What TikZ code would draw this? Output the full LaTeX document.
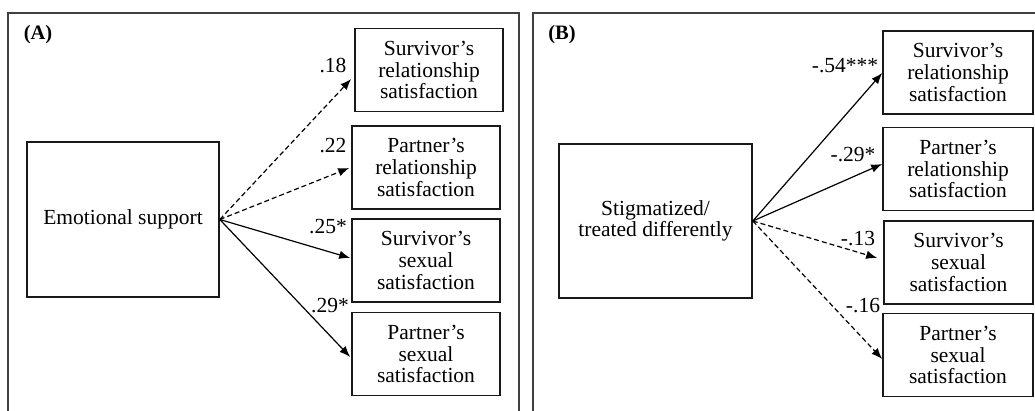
\documentclass[tikz,border=0pt]{standalone}
\usepackage{fontspec}
\setmainfont{Liberation Serif}
\usetikzlibrary{arrows.meta}
\tikzset{
  frameline/.style={draw=black!75, line width=1.3pt},
  srcbox/.style={draw=black!90, line width=1.6pt, rectangle, inner sep=0pt, align=center,
     font=\fontsize{21.5}{21.7}\selectfont},
  tgtbox/.style={draw=black!90, line width=1.6pt, rectangle, inner sep=0pt, align=center,
     minimum width=148pt, minimum height=83pt, font=\fontsize{21.5}{21.7}\selectfont},
  coef/.style={inner sep=0pt, font=\fontsize{21.5}{21.7}\selectfont},
  panel/.style={inner sep=0pt, font=\fontsize{20.5}{22}\selectfont\bfseries},
  path/.style={line width=1.2pt, -{Latex[length=11pt,width=8.5pt]}},
  nspath/.style={path, dash pattern=on 5pt off 3pt},
}
\begin{document}
\begin{tikzpicture}[x=1pt,y=-1pt]
\useasboundingbox (0,0) rectangle (1035,410);
% frames
\draw[frameline] (8,412) -- (8,13) -- (519,13) -- (519,412);
\draw[frameline] (533,412) -- (533,13) -- (1037,13);
% panel A
\node[panel] (la) at (38,35) {(A)};
\node[srcbox, minimum width=192pt, minimum height=155pt] (sa) at (123,219.5) {Emotional support};
\node[tgtbox] (a1) at (429,70) {Survivor’s\\relationship\\satisfaction};
\node[tgtbox] (a2) at (426,167.5) {Partner’s\\relationship\\satisfaction};
\node[tgtbox] (a3) at (426,260.5) {Survivor’s\\sexual\\satisfaction};
\node[tgtbox] (a4) at (426,354) {Partner’s\\sexual\\satisfaction};
\draw[nspath] (sa.east) -- ([xshift=-3pt,yshift=-9pt]a1.west);
\draw[nspath] (sa.east) -- ([xshift=-2pt,yshift=-0.5pt]a2.west);
\draw[path] (sa.east) -- ([xshift=-1pt,yshift=2.5pt]a3.west);
\draw[path] (sa.east) -- ([xshift=-1pt,yshift=-3pt]a4.west);
\node[coef] (ca1) at (333,66) {.18};
\node[coef] (ca2) at (333,146) {.22};
\node[coef] (ca3) at (328,227) {.25*};
\node[coef] (ca4) at (330,306) {.29*};
% panel B
\node[panel] (lb) at (562,35) {(B)};
\node[srcbox, minimum width=193pt, minimum height=154pt] (sb) at (655.5,221) {Stigmatized/\\treated differently};
\node[tgtbox, minimum width=150pt] (b1) at (958,72.5) {Survivor’s\\relationship\\satisfaction};
\node[tgtbox, minimum width=150pt] (b2) at (958,169) {Partner’s\\relationship\\satisfaction};
\node[tgtbox, minimum width=149pt] (b3) at (958.5,262.5) {Survivor’s\\sexual\\satisfaction};
\node[tgtbox, minimum width=150pt] (b4) at (958,355) {Partner’s\\sexual\\satisfaction};
\draw[path] (sb.east) -- ([xshift=0pt,yshift=-0.5pt]b1.west);
\draw[path] (sb.east) -- ([xshift=0pt,yshift=5pt]b2.west);
\draw[nspath] (sb.east) -- ([xshift=-6pt,yshift=4.5pt]b3.west);
\draw[nspath] (sb.east) -- ([xshift=0pt,yshift=-4pt]b4.west);
\node[coef] (cb1) at (845,66) {-.54***};
\node[coef] (cb2) at (853,155) {-.29*};
\node[coef] (cb3) at (858,239) {-.13};
\node[coef] (cb4) at (863,306) {-.16};
\end{tikzpicture}
\end{document}
